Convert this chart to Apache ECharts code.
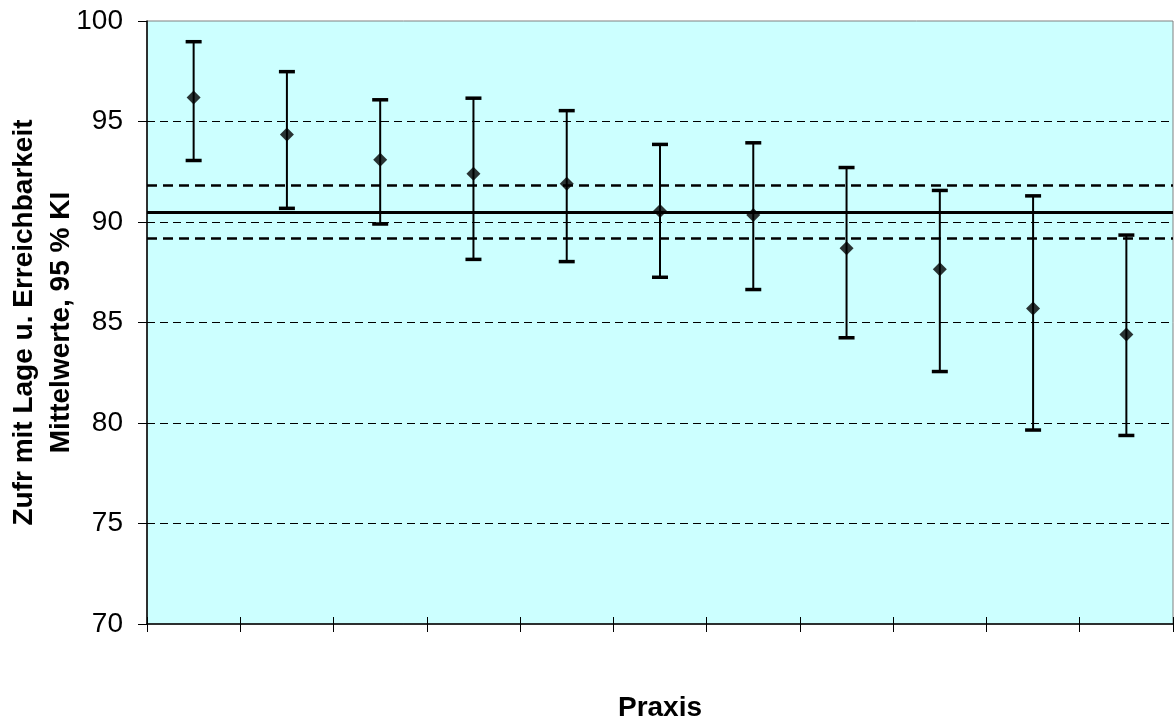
<!DOCTYPE html>
<html>
<head>
<meta charset="utf-8">
<script src="https://cdn.jsdelivr.net/npm/echarts@6/dist/echarts.min.js"></script>
<style>
  html, body { margin: 0; padding: 0; background: #fff; }
  #chart { width: 1176px; height: 723px; }
</style>
</head>
<body>
<div id="chart"></div>
<script>
// Praxis 1..11, Mittelwerte mit 95 % KI
var praxis = ['1', '2', '3', '4', '5', '6', '7', '8', '9', '10', '11'];
var mittel = [96.2, 94.35, 93.1, 92.4, 91.9, 90.55, 90.35, 88.7, 87.65, 85.7, 84.4];
var kiOben = [98.97, 97.48, 96.08, 96.16, 95.54, 93.86, 93.94, 92.71, 91.57, 91.3, 89.35];
var kiUnten = [93.06, 90.68, 89.9, 88.14, 88.03, 87.25, 86.64, 84.24, 82.56, 79.65, 79.38];
// Gesamtmittel und Grenzen
var gesamt = 90.49;
var gesamtOben = 91.84;
var gesamtUnten = 89.17;
var yTicks = [70, 75, 80, 85, 90, 95, 100];

var font = 'Liberation Sans, Arial, sans-serif';
var chart = echarts.init(document.getElementById('chart'));

var errData = praxis.map(function (p, i) {
  return [i, kiUnten[i], kiOben[i]];
});

var option = {
  animation: false,
  grid: {
    left: 147, right: 3, top: 21, bottom: 99,
    outerBoundsMode: 'none',
    containLabel: false,
    show: true,
    backgroundColor: '#CCFFFF',
    borderColor: '#808080',
    borderWidth: 1
  },
  xAxis: [{
    type: 'category',
    data: praxis,
    name: 'Praxis',
    nameLocation: 'middle',
    nameGap: 70,
    nameTextStyle: { fontFamily: font, fontSize: 28, fontWeight: 'bold', color: '#000' },
    axisLine: { lineStyle: { color: '#000', width: 1.5 } },
    axisTick: { show: true, length: 8, lineStyle: { color: '#000' } },
    axisLabel: { show: false },
    splitLine: { show: false }
  }, {
    type: 'category',
    data: praxis,
    position: 'bottom',
    axisLine: { show: false },
    axisTick: { show: true, inside: true, length: 7, lineStyle: { color: '#000' } },
    axisLabel: { show: false },
    splitLine: { show: false }
  }],
  yAxis: {
    type: 'value',
    min: yTicks[0],
    max: yTicks[yTicks.length - 1],
    interval: 5,
    name: 'Zufr mit Lage u. Erreichbarkeit\nMittelwerte, 95 % KI',
    nameLocation: 'middle',
    nameGap: 67,
    nameMoveOverlap: false,
    nameTextStyle: { fontFamily: font, fontSize: 28, fontWeight: 'bold', color: '#000', lineHeight: 37 },
    axisLine: { show: true, lineStyle: { color: '#000', width: 1.5 } },
    axisTick: { show: true, length: 9, lineStyle: { color: '#000' } },
    axisLabel: { fontFamily: font, fontSize: 28, color: '#000', margin: 24 },
    splitLine: {
      show: true, showMinLine: false, showMaxLine: false,
      lineStyle: { color: '#000', width: 1, type: [8, 5] }
    }
  },
  series: [{
    type: 'custom',
    data: errData,
    z: 3,
    renderItem: function (params, api) {
      var x = api.value(0);
      var lo = api.coord([x, api.value(1)]);
      var hi = api.coord([x, api.value(2)]);
      var w = 8;
      var st = { stroke: '#000', lineWidth: 2 };
      var cap = { stroke: '#000', lineWidth: 3.5 };
      return {
        type: 'group',
        children: [
          { type: 'line', shape: { x1: lo[0], y1: lo[1], x2: hi[0], y2: hi[1] }, style: st },
          { type: 'line', shape: { x1: lo[0] - w, y1: lo[1], x2: lo[0] + w, y2: lo[1] }, style: cap },
          { type: 'line', shape: { x1: hi[0] - w, y1: hi[1], x2: hi[0] + w, y2: hi[1] }, style: cap }
        ]
      };
    }
  }, {
    type: 'scatter',
    data: mittel,
    symbol: 'diamond',
    symbolSize: 14,
    z: 4,
    itemStyle: { color: '#000' },
    markLine: {
      silent: true,
      symbol: 'none',
      label: { show: false },
      data: [
        { yAxis: gesamt, lineStyle: { color: '#000', width: 3, type: 'solid' } },
        { yAxis: gesamtOben, lineStyle: { color: '#000', width: 2.5, type: [10, 6] } },
        { yAxis: gesamtUnten, lineStyle: { color: '#000', width: 2.5, type: [10, 6] } }
      ]
    }
  }]
};

chart.setOption(option);
</script>
</body>
</html>
